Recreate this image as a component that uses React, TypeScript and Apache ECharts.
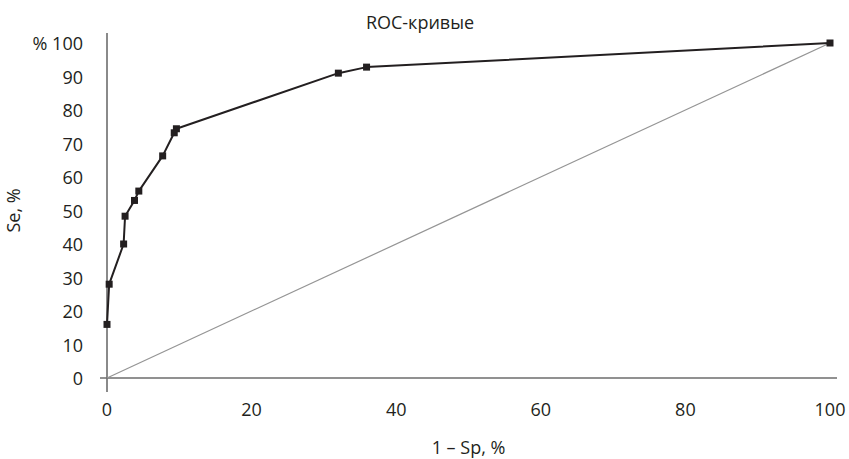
import React, { useEffect, useRef } from "react";
import * as echarts from "echarts";

// ROC curve points: 1 – specificity (%) and sensitivity (%)
const fpr: number[] = [0, 0.3, 2.3, 2.5, 3.8, 4.4, 7.7, 9.3, 9.6, 32, 35.9, 100];
const sens: number[] = [16, 28, 40, 48.3, 53, 55.8, 66.3, 73.2, 74.4, 91, 92.8, 100];

// Reference diagonal (random classifier)
const diagX: number[] = [0, 100];
const diagY: number[] = [0, 100];

const xTicks: number[] = [0, 20, 40, 60, 80, 100];
const yTicks: number[] = [0, 10, 20, 30, 40, 50, 60, 70, 80, 90, 100];

const FONT = "'Open Sans', 'Noto Sans', sans-serif";
const TEXT = "#231f20";
const AXIS = "#6d6d6d";
const FS = 18;

// plot area in pixels
const G = { left: 107, right: 19, top: 43, bottom: 81 };
const W = 849;
const H = 459;

export default function App() {
  const ref = useRef<HTMLDivElement>(null);

  useEffect(() => {
    if (!ref.current) return;
    const chart = echarts.init(ref.current, undefined, { renderer: "svg" });
    const x0 = G.left;
    const x1 = W - G.right;
    const y0 = H - G.bottom;
    const y1 = G.top;
    chart.setOption({
      animation: false,
      backgroundColor: "#ffffff",
      title: {
        text: "ROC-кривые",
        left: 415,
        textAlign: "center",
        top: 8,
        textStyle: { fontFamily: FONT, fontSize: FS, fontWeight: "normal", color: TEXT },
      },
      grid: {
        left: G.left,
        right: G.right,
        top: G.top,
        bottom: G.bottom,
        containLabel: false,
        outerBoundsMode: "none",
      },
      // axis lines overhang the plot area a little on both ends
      graphic: [
        {
          type: "line",
          shape: { x1: x0, y1: y1 - 10, x2: x0, y2: y0 + 14 },
          style: { stroke: AXIS, lineWidth: 1.6 },
          z: 0,
        },
        {
          type: "line",
          shape: { x1: x0 - 7, y1: y0, x2: x1 + 7, y2: y0 },
          style: { stroke: AXIS, lineWidth: 1.6 },
          z: 0,
        },
      ],
      xAxis: {
        type: "value",
        min: 0,
        max: 100,
        name: "1 – Sp, %",
        nameLocation: "middle",
        nameGap: 60,
        nameTextStyle: { fontFamily: FONT, fontSize: FS, color: TEXT },
        axisLine: { show: false },
        axisTick: { show: false },
        splitLine: { show: false },
        axisLabel: {
          customValues: xTicks,
          margin: 22,
          fontFamily: FONT,
          fontSize: FS,
          color: TEXT,
        },
      },
      yAxis: {
        type: "value",
        min: 0,
        max: 100,
        name: "Se, %",
        nameLocation: "middle",
        nameRotate: 90,
        nameGap: 70,
        nameTextStyle: { fontFamily: FONT, fontSize: FS, color: TEXT },
        axisLine: { show: false },
        axisTick: { show: false },
        splitLine: { show: false },
        axisLabel: {
          customValues: yTicks,
          margin: 24,
          fontFamily: FONT,
          fontSize: FS,
          color: TEXT,
          formatter: (v: number) => (v === 100 ? "% 100" : String(v)),
        },
      },
      series: [
        {
          type: "line",
          data: diagX.map((x, i) => [x, diagY[i]]),
          symbol: "none",
          lineStyle: { color: "#959595", width: 1.2 },
          silent: true,
          z: 1,
        },
        {
          type: "line",
          data: fpr.map((x, i) => [x, sens[i]]),
          symbol: "rect",
          symbolSize: 7,
          itemStyle: { color: TEXT },
          lineStyle: { color: TEXT, width: 2 },
          z: 2,
        },
      ],
    });
    return () => chart.dispose();
  }, []);

  return (
    <div
      ref={ref}
      style={{ position: "fixed", left: 0, top: 0, width: W, height: H }}
    />
  );
}
